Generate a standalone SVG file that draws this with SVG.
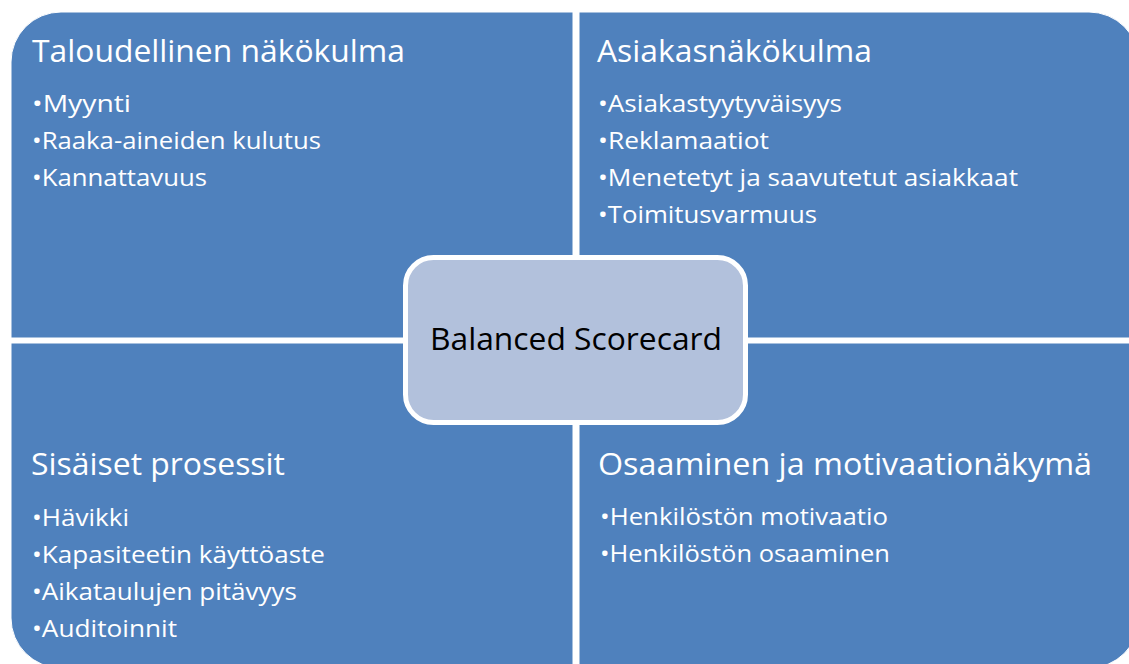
<svg xmlns="http://www.w3.org/2000/svg" width="1129" height="664" viewBox="0 0 1129 664">
<style>
.q{fill:#4F81BD;stroke:#FFFFFF;stroke-width:1}
.t{font-family:"Open Sans","Liberation Sans",sans-serif;fill:#FFFFFF}
.h{font-size:31px}
.b{font-size:24px}
.c{font-family:"Open Sans","Liberation Sans",sans-serif;font-size:31px;fill:#000000}
</style>
<rect width="1129" height="664" fill="#FFFFFF"/>
<g id="q-taloudellinen">
<path class="q" d="M11,338 V62 A50,50 0 0 1 61,12 H573 V338 Z"/>
<text class="t h" x="32" y="62" textLength="373" lengthAdjust="spacingAndGlyphs">Taloudellinen näkökulma</text>
<text class="t b" x="32" y="112" textLength="99" lengthAdjust="spacingAndGlyphs">•Myynti</text>
<text class="t b" x="32" y="149" textLength="289" lengthAdjust="spacingAndGlyphs">•Raaka-aineiden kulutus</text>
<text class="t b" x="32" y="186" textLength="175" lengthAdjust="spacingAndGlyphs">•Kannattavuus</text>
</g>
<g id="q-asiakas">
<path class="q" d="M579,12 H1089 A50,50 0 0 1 1139,62 V338 H579 Z"/>
<text class="t h" x="597" y="62" textLength="275" lengthAdjust="spacingAndGlyphs">Asiakasnäkökulma</text>
<text class="t b" x="598" y="112" textLength="244" lengthAdjust="spacingAndGlyphs">•Asiakastyytyväisyys</text>
<text class="t b" x="598" y="149" textLength="171" lengthAdjust="spacingAndGlyphs">•Reklamaatiot</text>
<text class="t b" x="598" y="186" textLength="420" lengthAdjust="spacingAndGlyphs">•Menetetyt ja saavutetut asiakkaat</text>
<text class="t b" x="598" y="223" textLength="219" lengthAdjust="spacingAndGlyphs">•Toimitusvarmuus</text>
</g>
<g id="q-sisaiset">
<path class="q" d="M11,343 H573 V668 H61 A50,50 0 0 1 11,618 Z"/>
<text class="t h" x="31" y="475" textLength="254" lengthAdjust="spacingAndGlyphs">Sisäiset prosessit</text>
<text class="t b" x="32" y="526" textLength="97" lengthAdjust="spacingAndGlyphs">•Hävikki</text>
<text class="t b" x="32" y="563" textLength="293" lengthAdjust="spacingAndGlyphs">•Kapasiteetin käyttöaste</text>
<text class="t b" x="32" y="600" textLength="265" lengthAdjust="spacingAndGlyphs">•Aikataulujen pitävyys</text>
<text class="t b" x="32" y="637" textLength="145" lengthAdjust="spacingAndGlyphs">•Auditoinnit</text>
</g>
<g id="q-osaaminen">
<path class="q" d="M579,343 H1139 V618 A50,50 0 0 1 1089,668 H579 Z"/>
<text class="t h" x="598" y="475" textLength="494" lengthAdjust="spacingAndGlyphs">Osaaminen ja motivaationäkymä</text>
<text class="t b" x="600" y="525" textLength="288" lengthAdjust="spacingAndGlyphs">•Henkilöstön motivaatio</text>
<text class="t b" x="600" y="562" textLength="290" lengthAdjust="spacingAndGlyphs">•Henkilöstön osaaminen</text>
</g>
<g id="connectors"></g>
<g id="center">
<rect x="405.5" y="257.5" width="340" height="165" rx="28" ry="28" fill="#B2C1DC" stroke="#FFFFFF" stroke-width="5"/>
<text class="c" x="430" y="350" textLength="292" lengthAdjust="spacingAndGlyphs">Balanced Scorecard</text>
</g>
</svg>
